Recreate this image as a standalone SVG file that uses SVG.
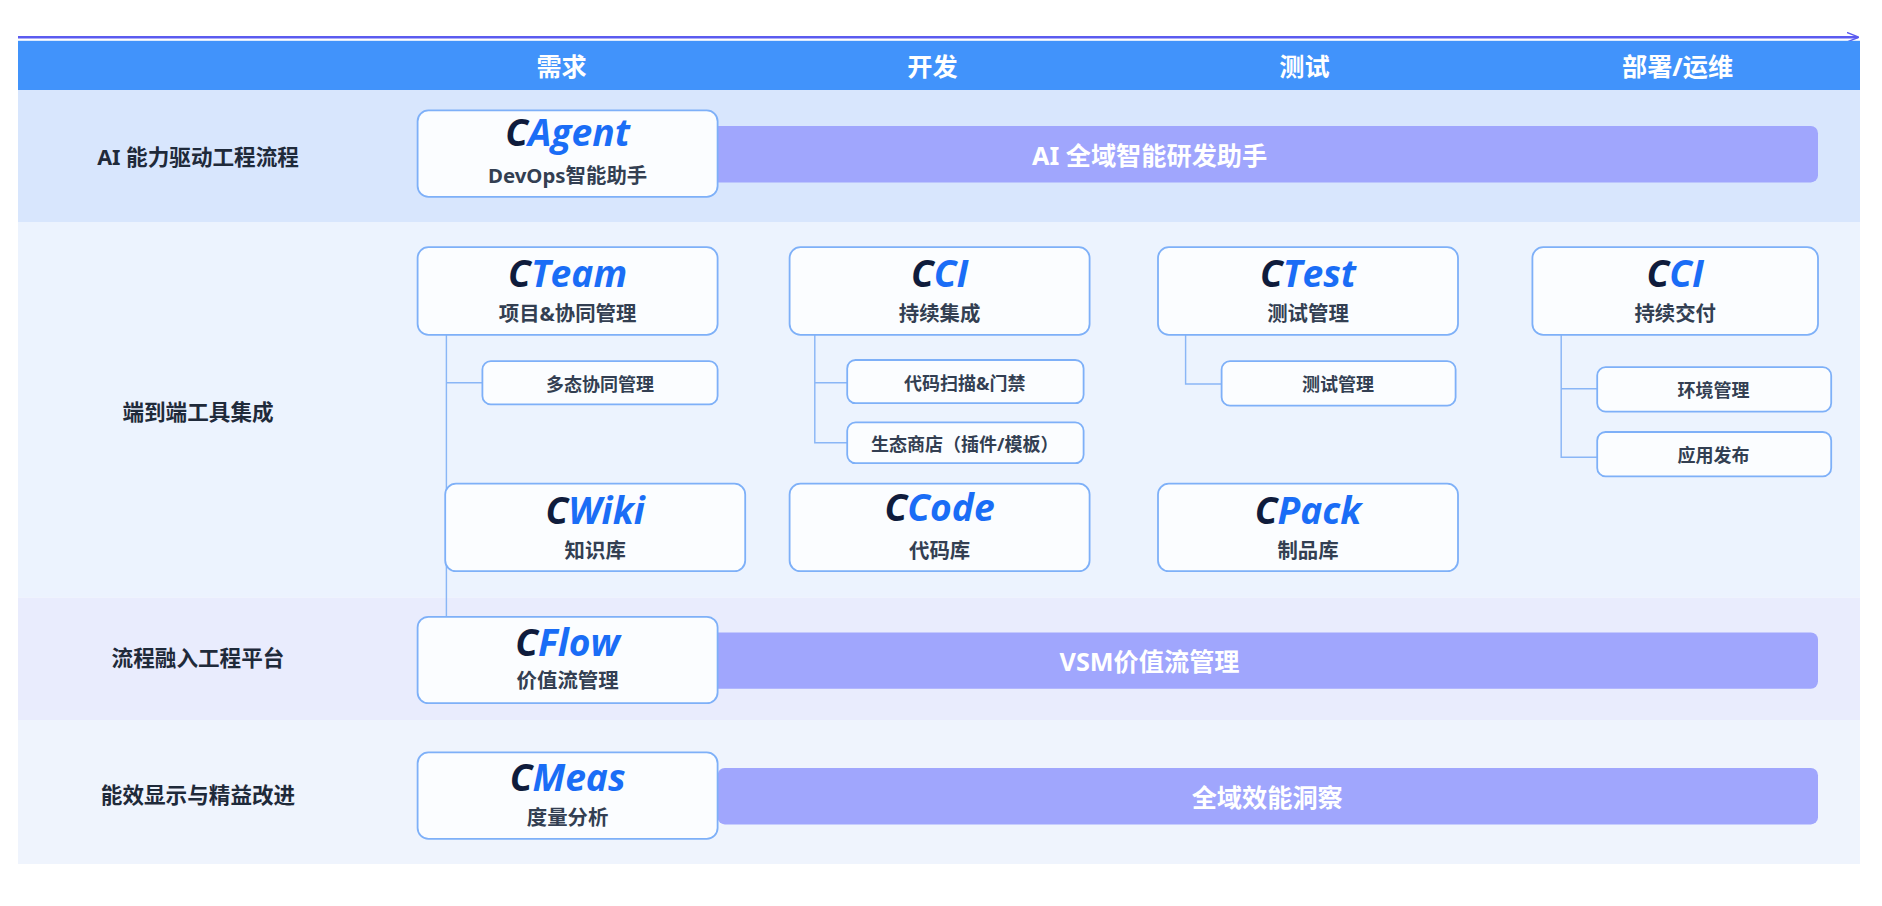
<svg xmlns="http://www.w3.org/2000/svg" width="1882" height="906" viewBox="0 0 1882 906">
<defs>
<style>
text{font-family:"Noto Sans","Noto Sans CJK SC",sans-serif;font-weight:bold;text-anchor:middle;dominant-baseline:central}
.hd{fill:#fff;font-size:21px}
.rl{fill:#1f2a3a;font-size:18px}
.box{fill:#fbfdff;stroke:#7eb0f8;stroke-width:1.5}
.bar{fill:#a0a6fd}
.bt{fill:#fff;font-size:21px}
.logo{font-size:31px;font-style:italic;font-family:"Open Sans","Noto Sans",sans-serif}
.c{fill:#0f1c3c}.n{fill:#1a6df6}
.sub{fill:#333f52;font-size:17px}
.s{fill:#333f52;font-size:15px}
.ln{fill:none;stroke:#8ab6f6;stroke-width:1.2}
</style>
<marker id="ar" markerWidth="10" markerHeight="8" refX="9" refY="4" orient="auto" markerUnits="userSpaceOnUse"><path d="M0,0 L10,4 L0,8" fill="none" stroke="#5b5bf0" stroke-width="1.2"/></marker>
</defs>
<rect width="1882" height="906" fill="#fff"/>
<g transform="scale(1.2)">
<line x1="15" y1="31" x2="1548" y2="31" stroke="#5b5bf0" stroke-width="2" marker-end="url(#ar)"/>
<rect x="15" y="34" width="1535" height="41" fill="#4193fb"/>
<text class="hd" x="468" y="55">需求</text><text class="hd" x="777" y="55">开发</text><text class="hd" x="1087" y="55">测试</text><text class="hd" x="1398" y="55">部署/运维</text>
<rect x="15" y="75" width="1535" height="110" fill="#d8e6fd"/>
<rect x="15" y="185" width="1535" height="313" fill="#ecf3fe"/>
<rect x="15" y="498" width="1535" height="102" fill="#e9ecfd"/>
<rect x="15" y="600" width="1535" height="120" fill="#eff4fd"/>
<text class="rl" x="165" y="130">AI 能力驱动工程流程</text>
<text class="rl" x="165" y="343">端到端工具集成</text>
<text class="rl" x="165" y="548">流程融入工程平台</text>
<text class="rl" x="165" y="662">能效显示与精益改进</text>
<g id="connectors">
<path class="ln" d="M372,279 V514 M372,319 H402"/>
<path class="ln" d="M679,279 V369 H706 M679,319 H706"/>
<path class="ln" d="M988,279 V320 H1018"/>
<path class="ln" d="M1301,279 V381 H1331 M1301,324 H1331"/>
</g>
<g id="bar-ai"><rect class="bar" x="590" y="105" width="925" height="47" rx="6"/><text class="bt" x="958" y="129">AI 全域智能研发助手</text></g>
<g id="bar-vsm"><rect class="bar" x="590" y="527" width="925" height="47" rx="6"/><text class="bt" x="958" y="551">VSM价值流管理</text></g>
<g id="bar-insight"><rect class="bar" x="598" y="640" width="917" height="47" rx="6"/><text class="bt" x="1056" y="664">全域效能洞察</text></g>
<g id="cagent"><rect class="box" x="348" y="92" width="250" height="72" rx="9"/><text class="logo" x="473" y="109"><tspan class="c">C</tspan><tspan class="n">Agent</tspan></text><text class="sub" x="473" y="146">DevOps智能助手</text></g>
<g id="cteam"><rect class="box" x="348" y="206" width="250" height="73" rx="9"/><text class="logo" x="473" y="227"><tspan class="c">C</tspan><tspan class="n">Team</tspan></text><text class="sub" x="473" y="261">项目&amp;协同管理</text></g>
<g id="cci"><rect class="box" x="658" y="206" width="250" height="73" rx="9"/><text class="logo" x="783" y="227"><tspan class="c">C</tspan><tspan class="n">CI</tspan></text><text class="sub" x="783" y="261">持续集成</text></g>
<g id="ctest"><rect class="box" x="965" y="206" width="250" height="73" rx="9"/><text class="logo" x="1090" y="227"><tspan class="c">C</tspan><tspan class="n">Test</tspan></text><text class="sub" x="1090" y="261">测试管理</text></g>
<g id="cci2"><rect class="box" x="1277" y="206" width="238" height="73" rx="9"/><text class="logo" x="1396" y="227"><tspan class="c">C</tspan><tspan class="n">CI</tspan></text><text class="sub" x="1396" y="261">持续交付</text></g>
<g id="s1"><rect class="box" x="402" y="301" width="196" height="36" rx="7"/><text class="s" x="500" y="320">多态协同管理</text></g>
<g id="s2"><rect class="box" x="706" y="300" width="197" height="36" rx="7"/><text class="s" x="804" y="319">代码扫描&amp;门禁</text></g>
<g id="s3"><rect class="box" x="706" y="352" width="197" height="34" rx="7"/><text class="s" x="804" y="370">生态商店（插件/模板）</text></g>
<g id="s4"><rect class="box" x="1018" y="301" width="195" height="37" rx="7"/><text class="s" x="1115" y="320">测试管理</text></g>
<g id="s5"><rect class="box" x="1331" y="306" width="195" height="37" rx="7"/><text class="s" x="1428" y="325">环境管理</text></g>
<g id="s6"><rect class="box" x="1331" y="360" width="195" height="37" rx="7"/><text class="s" x="1428" y="379">应用发布</text></g>
<g id="cwiki"><rect class="box" x="371" y="403" width="250" height="73" rx="9"/><text class="logo" x="496" y="424"><tspan class="c">C</tspan><tspan class="n">Wiki</tspan></text><text class="sub" x="496" y="458">知识库</text></g>
<g id="ccode"><rect class="box" x="658" y="403" width="250" height="73" rx="9"/><text class="logo" x="783" y="422"><tspan class="c">C</tspan><tspan class="n">Code</tspan></text><text class="sub" x="783" y="458">代码库</text></g>
<g id="cpack"><rect class="box" x="965" y="403" width="250" height="73" rx="9"/><text class="logo" x="1090" y="424"><tspan class="c">C</tspan><tspan class="n">Pack</tspan></text><text class="sub" x="1090" y="458">制品库</text></g>
<g id="cflow"><rect class="box" x="348" y="514" width="250" height="72" rx="9"/><text class="logo" x="473" y="534"><tspan class="c">C</tspan><tspan class="n">Flow</tspan></text><text class="sub" x="473" y="567">价值流管理</text></g>
<g id="cmeas"><rect class="box" x="348" y="627" width="250" height="72" rx="9"/><text class="logo" x="473" y="647"><tspan class="c">C</tspan><tspan class="n">Meas</tspan></text><text class="sub" x="473" y="681">度量分析</text></g>
</g>
</svg>
